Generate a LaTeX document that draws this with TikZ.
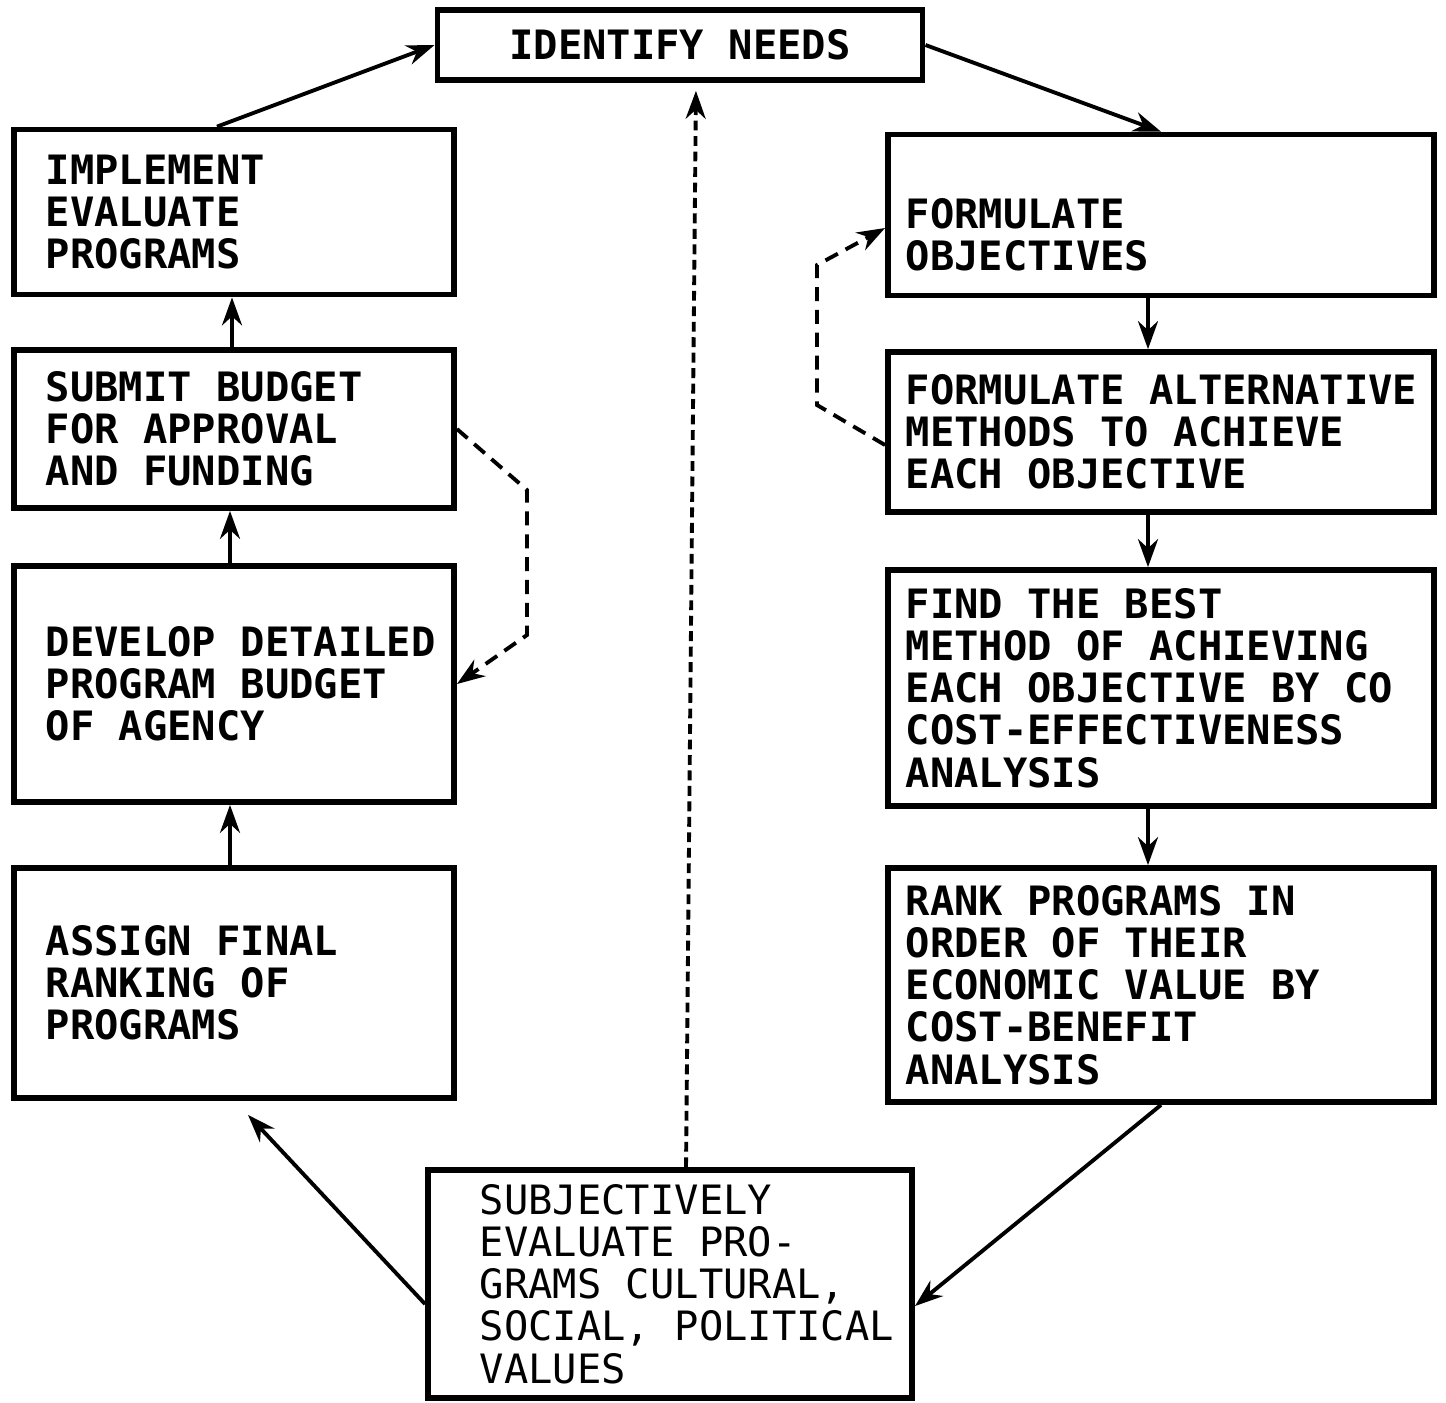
\documentclass[tikz,border=0pt]{standalone}
\usepackage{fontspec}
\setmonofont{DejaVu Sans Mono}[HyphenChar=None]
\usepackage{tikz}
\usetikzlibrary{arrows.meta}

\begin{document}
\begin{tikzpicture}[->,>={Stealth[length=0.28cm,width=0.2cm]},x=0.01cm,y=-0.01cm,line width=1.1pt]
		\tikzstyle{stage} = [rectangle,draw,line width=1.6pt,align=left,font=\fontsize{11.5}{12}\selectfont\ttfamily\bfseries,execute at begin node={\spaceskip=0.602em\relax}]
		\tikzstyle{lstage} = [stage,minimum width=4.4cm,inner xsep=0.32cm,text width=3.76cm]
		\tikzstyle{rstage} = [stage,minimum width=5.46cm,inner xsep=0.18cm,text width=5.1cm]
		\tikzstyle{feedback} = [dash pattern=on 4pt off 2.5pt]
		
		\useasboundingbox (0,0) rectangle (1446,1402);
		
		\node[stage,align=center,minimum width=4.85cm,minimum height=0.7cm] (needs) at (680,45) {IDENTIFY NEEDS};
		
		\node[lstage,minimum height=1.65cm] (implement) at (234,212) {IMPLEMENT\\EVALUATE\\PROGRAMS};
		\node[lstage,minimum height=1.58cm] (submit) at (234,429) {SUBMIT BUDGET\\FOR APPROVAL\\AND FUNDING};
		\node[lstage,minimum height=2.36cm] (develop) at (234,684) {DEVELOP~DETAILED\\PROGRAM BUDGET\\OF AGENCY};
		\node[lstage,minimum height=2.3cm] (assign) at (234,983) {ASSIGN FINAL\\RANKING OF\\PROGRAMS};
		
		\node[rstage,minimum height=1.61cm,text height=0.69cm] (objectives) at (1161,215) {FORMULATE\\OBJECTIVES};
		\node[rstage,minimum height=1.6cm] (alternatives) at (1161,432) {FORMULATE~ALTERNATIVE\\METHODS TO ACHIEVE\\EACH OBJECTIVE};
		\node[rstage,minimum height=2.36cm] (best) at (1161,688) {FIND THE BEST\\METHOD OF ACHIEVING\\EACH~OBJECTIVE~BY~CO\\COST-EFFECTIVENESS\\ANALYSIS};
		\node[rstage,minimum height=2.34cm] (rank) at (1161,985) {RANK PROGRAMS IN\\ORDER OF THEIR\\ECONOMIC VALUE BY\\COST-BENEFIT\\ANALYSIS};
		
		\node[stage,font=\fontsize{11.5}{12}\selectfont\ttfamily,minimum width=4.84cm,minimum height=2.28cm,inner xsep=0.52cm,text width=3.8cm] (subj) at (670,1284) {SUBJECTIVELY\\EVALUATE PRO-\\GRAMS CULTURAL,\\SOCIAL,~POLITICAL\\VALUES};
		
		\path ([xshift=-0.17cm]implement.north) edge (needs.west);
		\path (needs.east) edge (objectives.north);
		
		\path ([xshift=-0.13cm]objectives.south) edge ([xshift=-0.13cm]alternatives.north);
		\path ([xshift=-0.13cm]alternatives.south) edge ([xshift=-0.13cm]best.north);
		\path ([xshift=-0.13cm]best.south) edge ([xshift=-0.13cm]rank.north);
		
		\path (rank.south) edge ([yshift=-0.22cm]subj.east);
		\path ([yshift=-0.2cm]subj.west) edge ([xshift=0.14cm,yshift=-0.14cm]assign.south);
		
		\path ([xshift=-0.04cm]assign.north) edge ([xshift=-0.04cm]develop.south);
		\path ([xshift=-0.04cm]develop.north) edge ([xshift=-0.04cm]submit.south);
		\path ([xshift=-0.02cm]submit.north) edge ([xshift=-0.02cm]implement.south);
		
		% feedback loops
		\draw[feedback,dash pattern=on 2.8pt off 1.6pt,shorten >=0.08cm] ([xshift=0.16cm]subj.north) -- ([xshift=0.16cm]needs.south);
		\draw[feedback] (submit.east) -- (527,490) -- (527,635) -- (develop.east);
		\draw[feedback] ([yshift=-0.13cm]alternatives.west) -- (817,405) -- (817,265) -- ([yshift=-0.13cm]objectives.west);
	\end{tikzpicture}
\end{document}
